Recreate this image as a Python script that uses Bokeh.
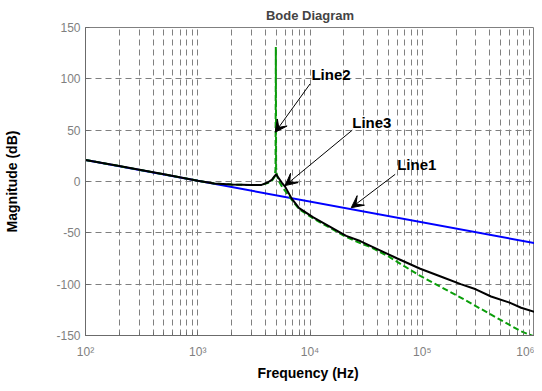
from bokeh.plotting import figure
from bokeh.models import Range1d, FixedTicker, Arrow, VeeHead, Label
from bokeh.embed import file_html
from bokeh.resources import INLINE

# ---- data ----
DECADES = [100, 1000, 10000, 100000, 1000000]
X_TICK_LABELS = ["10²", "10³", "10⁴", "10⁵", "10⁶"]
Y_TICKS = [-150, -100, -50, 0, 50, 100, 150]
Y_TICK_LABELS = ["-150", "-100", "-50", "0", "50", "100", "150"]

F_LINE1 = [100, 1000000]
DB_LINE1 = [21, -60]

F_LINE3 = [100, 200, 500, 1000, 1400, 2000, 3000, 3700, 4200, 4600, 4900, 5000,
           5200, 5600, 6000, 6900, 8000, 10700, 15000, 21000, 28000, 42000,
           60000, 96000, 150000, 220000, 300000, 410000, 600000, 760000, 1000000]
DB_LINE3 = [21, 15, 7, 0.8, -2, -3, -3.5, -3.3, -1, 2, 6, 7,
            4, -1, -5, -17, -26, -35, -44, -53, -58, -67,
            -75, -85, -93, -100, -105, -112, -118, -123, -127]

F_LINE2 = [100, 200, 500, 1000, 1400, 2000, 3000, 3700, 4200, 4600, 4850, 4930,
           4960, 4990, 5070, 5300, 5700, 6200, 6900, 8000, 10700, 15000, 21000,
           28000, 35000, 50000, 96000, 220000, 400000, 760000, 1000000]
DB_LINE2 = [21, 15, 7, 0.8, -2, -3, -3.5, -3.3, -1.5, 1, 5, 12,
            131, 14, 6, 0, -6, -11, -18, -27, -36, -45, -54,
            -60, -64, -73, -92, -113, -129, -146, -151]

# annotation texts and anchor points (data coordinates)
ANNOT_TEXT = ["Line2", "Line3", "Line1"]
ANNOT_X = [10300, 23800, 59800]
ANNOT_Y = [104, 57, 16.7]
ARROW_X0 = [10000, 23800, 57400]
ARROW_Y0 = [95, 50, 7]
ARROW_X1 = [4900, 6000, 23300]
ARROW_Y1 = [48, -4, -25.5]

FONT = "Liberation Sans"
GRID = "#808080"

p = figure(width=534, height=383, x_axis_type="log",
           x_range=Range1d(1e2, 1e6), y_range=Range1d(-150, 150),
           output_backend="svg", toolbar_location=None,
           title="Bode Diagram",
           min_border_left=85, min_border_right=0,
           min_border_top=27, min_border_bottom=48)

p.background_fill_color = "white"
p.border_fill_color = "white"
p.outline_line_color = "#808080"

p.title.text_font = FONT
p.title.text_font_size = "13px"
p.title.text_font_style = "bold"
p.title.align = "center"
p.title.standoff = 10
p.title.offset = 0

minor = [k * d for d in DECADES[:-1] for k in range(2, 10)]
p.xaxis.ticker = FixedTicker(ticks=DECADES, minor_ticks=minor)
p.yaxis.ticker = FixedTicker(ticks=Y_TICKS)
p.xaxis.major_label_overrides = {d: l for d, l in zip(DECADES, X_TICK_LABELS)}
p.yaxis.major_label_overrides = {t: l for t, l in zip(Y_TICKS, Y_TICK_LABELS)}

for ax in (p.xaxis, p.yaxis):
    ax.axis_line_color = "#6b6b6b"
    ax.major_tick_line_color = "#6b6b6b"
    ax.minor_tick_line_color = "#6b6b6b"
    ax.major_tick_in = 4
    ax.major_tick_out = 0
    ax.minor_tick_in = 3
    ax.minor_tick_out = 0
    ax.major_label_text_font = FONT
    ax.major_label_text_font_size = "12px"
    ax.major_label_text_color = "#7f7f7f"
    ax.axis_label_text_font = FONT
    ax.axis_label_text_font_size = "14px"
    ax.axis_label_text_font_style = "bold"
    ax.axis_label_text_color = "black"

p.xaxis.axis_label = "Frequency  (Hz)"
p.yaxis.axis_label = "Magnitude (dB)"
p.xaxis.major_label_standoff = 9
p.yaxis.major_label_standoff = 5
p.xaxis.axis_label_standoff = 3
p.yaxis.axis_label_standoff = 33

for g in (p.xgrid, p.ygrid):
    g.grid_line_color = GRID
    g.grid_line_dash = "6 4"
    g.grid_line_width = 1
p.xgrid.minor_grid_line_color = GRID
p.xgrid.minor_grid_line_dash = "6 4"
p.xgrid.minor_grid_line_width = 1

p.line(F_LINE1, DB_LINE1, line_color="#0000ff", line_width=2)
p.line(F_LINE2, DB_LINE2, line_color="#0a9e0a", line_width=2, line_dash="6 3")
p.line(F_LINE3, DB_LINE3, line_color="black", line_width=2)

for t, x, y in zip(ANNOT_TEXT, ANNOT_X, ANNOT_Y):
    p.add_layout(Label(x=x, y=y, text=t, text_font=FONT, text_font_size="15px",
                       text_font_style="bold", text_baseline="middle",
                       text_color="black"))

for x0, y0, x1, y1 in zip(ARROW_X0, ARROW_Y0, ARROW_X1, ARROW_Y1):
    p.add_layout(Arrow(end=VeeHead(size=12, fill_color="black", line_color="black",
                                   line_width=1),
                       x_start=x0, y_start=y0, x_end=x1, y_end=y1,
                       line_color="black", line_width=1))

open("out.html", "w").write(file_html(p, INLINE))
